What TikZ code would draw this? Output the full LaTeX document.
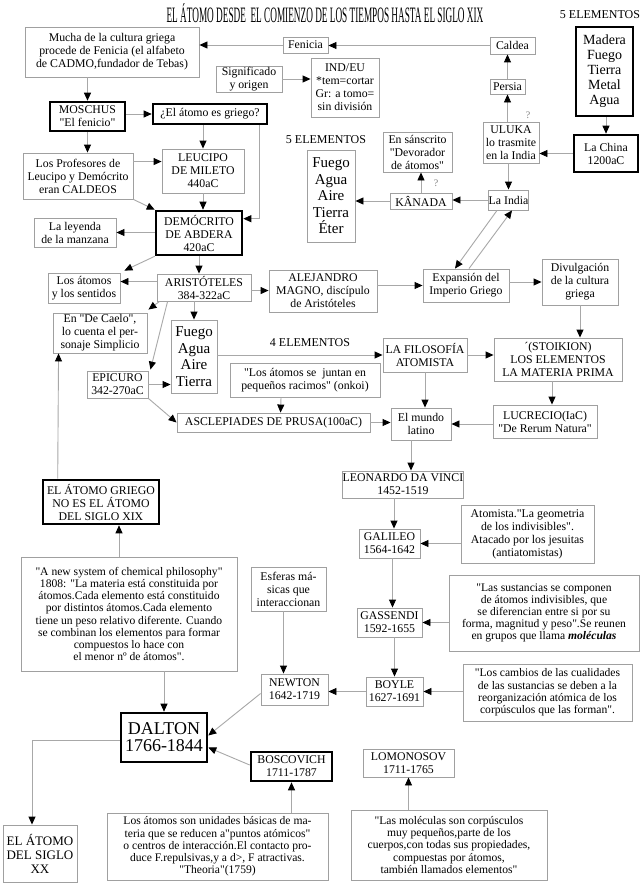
\documentclass[tikz,border=0pt]{standalone}
\usepackage{fontspec}
\setmainfont{Liberation Serif}[Ligatures=TeXOff]
\usetikzlibrary{arrows.meta,calc}
\definecolor{lgray}{HTML}{A8A8A8}
\definecolor{bgray}{HTML}{A0A0A0}
\newcommand\nfont{\fontsize{11.8pt}{13pt}\selectfont}
\newcommand\tfont{\fontsize{11.6pt}{12.2pt}\selectfont}
\newcommand\fbig{\fontsize{15pt}{16.5pt}\selectfont}
\newcommand\fmid{\fontsize{14pt}{15pt}\selectfont}
\newcommand\fdal{\fontsize{18pt}{17pt}\selectfont}
\newcommand\BX[7]{\node[#6, minimum width={(#4)-(#2)}, minimum height={(#5)-(#3)}] (#1) at ({((#2)+(#4))/2},{((#3)+(#5))/2}) {#7};}
\tikzset{
  box/.style={draw=bgray, line width=0.9pt, fill=white, align=center, inner sep=0pt, font=\nfont},
  tbox/.style={box, draw=black, line width=2.6pt},
  arr/.style={draw=lgray, line width=0.9pt, -{Triangle[length=8pt,width=7pt,color=black]}},
  lab/.style={font=\fontsize{12pt}{12pt}\selectfont, inner sep=0pt},
  qm/.style={font=\fontsize{10pt}{10pt}\selectfont, text=gray, inner sep=0pt}
}
\begin{document}
\begin{tikzpicture}[x=1pt,y=-1pt]
\useasboundingbox[fill=white] (0,0) rectangle (642,883);

% title and labels
\node[inner sep=0pt] (title) at (325,13) {\scalebox{0.42}[1]{\fontsize{22pt}{22pt}\selectfont EL ÁTOMO DESDE \ EL COMIENZO DE LOS TIEMPOS HASTA EL SIGLO XIX}};
\node[lab] (lab5a) at (600,15) {5 ELEMENTOS};
\node[lab] (lab5b) at (326,140) {5 ELEMENTOS};
\node[lab] (lab4) at (310,343) {4 ELEMENTOS};
\node[qm] (q1) at (528,115) {?};
\node[qm] (q2) at (436,183) {?};

% boxes
\BX{mucha}{25}{27}{199}{77}{box}{Mucha de la cultura griega\\procede de Fenicia (el alfabeto\\de CADMO,fundador de Tebas)}
\BX{fenicia}{283}{37}{328}{53}{box}{Fenicia}
\BX{caldea}{490}{37}{535}{54}{box}{Caldea}
\BX{signif}{216}{66}{282}{92}{box}{Significado\\y origen}
\BX{indeu}{311}{58}{379}{117}{box}{IND/EU\\*tem=cortar\\Gr: a tomo=\\sin división}
\BX{madera}{576}{27}{633}{116}{tbox,font=\fmid}{Madera\\Fuego\\Tierra\\Metal\\Agua}
\BX{persia}{490}{79}{525}{94}{box}{Persia}
\BX{uluka}{483}{122}{539}{163}{box}{ULUKA\\lo trasmite\\en la India}
\BX{china}{574}{135}{638}{172}{tbox}{La China\\1200aC}
\BX{moschus}{50}{102}{125}{131}{tbox}{MOSCHUS\\"El fenicio"}
\BX{atgr}{153}{104}{267}{124}{tbox}{¿El átomo es griego?}
\BX{sanscrito}{383}{132}{452}{172}{box}{En sánscrito\\"Devorador\\de átomos"}
\BX{fuego5}{307}{150}{355}{242}{box,font=\fbig}{Fuego\\Agua\\Aire\\Tierra\\Éter}
\BX{profes}{23}{153}{133}{199}{box}{Los Profesores de\\Leucipo y Demócrito\\eran CALDEOS}
\BX{leucipo}{162}{149}{244}{193}{box}{LEUCIPO\\DE MILETO\\440aC}
\BX{kanada}{390}{193}{452}{209}{box}{KÂNADA}
\BX{india}{490}{190}{527}{210}{box}{La India}
\BX{democrito}{156}{211}{242}{255}{tbox}{DEMÓCRITO\\DE ABDERA\\420aC}
\BX{leyenda}{34}{218}{116}{247}{box}{La leyenda\\de la manzana}
\BX{aristoteles}{157}{274}{251}{301}{box}{ARISTÓTELES\\384-322aC}
\BX{sentidos}{48}{273}{120}{303}{box}{Los átomos\\y los sentidos}
\BX{alejandro}{269}{270}{377}{312}{box}{ALEJANDRO\\MAGNO, discípulo\\de Aristóteles}
\BX{expansion}{423}{269}{509}{302}{box}{Expansión del\\Imperio Griego}
\BX{divulg}{542}{259}{618}{305}{box}{Divulgación\\de la cultura\\griega}
\BX{caelo}{53}{313}{147}{353}{box}{En "De Caelo",\\lo cuenta el per-\\sonaje Simplicio}
\BX{fuego4}{171}{320}{217}{393}{box,font=\fbig}{Fuego\\Agua\\Aire\\Tierra}
\BX{filosofia}{383}{338}{467}{372}{box}{LA FILOSOFÍA\\ATOMISTA}
\BX{stoikion}{494}{338}{622}{381}{box}{´(STOIKION)\\LOS ELEMENTOS\\LA MATERIA PRIMA}
\BX{epicuro}{87}{371}{148}{398}{box}{EPICURO\\342-270aC}
\BX{racimos}{230}{363}{380}{397}{box}{"Los átomos se \ juntan en\\pequeños racimos" (onkoi)}
\BX{asclep}{177}{413}{370}{432}{box}{ASCLEPIADES DE PRUSA(100aC)}
\BX{mundo}{391}{408}{451}{440}{box}{El mundo\\latino}
\BX{lucrecio}{493}{405}{597}{438}{box}{LUCRECIO(IaC)\\"De Rerum Natura"}
\BX{leonardo}{343}{471}{463}{498}{box}{LEONARDO DA VINCI\\1452-1519}
\BX{griego}{43}{480}{159}{524}{tbox}{EL ÁTOMO GRIEGO\\NO ES EL ÁTOMO\\DEL SIGLO XIX}
\BX{atomista}{461}{505}{594}{563}{box}{Atomista."La geometria\\de los indivisibles".\\Atacado por los jesuitas\\(antiatomistas)}
\BX{galileo}{359}{529}{420}{558}{box}{GALILEO\\1564-1642}
\BX{newsys}{21}{557}{237}{671}{box,font=\tfont}{"A new system of chemical philosophy"\\1808: "La materia está constituida por\\átomos.Cada elemento está constituido\\por distintos átomos.Cada elemento\\tiene un peso relativo diferente. Cuando\\se combinan los elementos para formar\\compuestos lo hace con\\el menor nº de átomos".}
\BX{esferas}{251}{567}{326}{611}{box}{Esferas má-\\sicas que\\interaccionan}
\BX{sustancias}{449}{575}{639}{651}{box,font=\tfont}{"Las sustancias se componen\\de átomos indivisibles, que\\se diferencian entre si por su\\forma, magnitud y peso".Se reunen\\en grupos que llama \textbf{\textit{moléculas}}}
\BX{gassendi}{357}{608}{422}{637}{box}{GASSENDI\\1592-1655}
\BX{cambios}{463}{664}{632}{721}{box,font=\tfont}{"Los cambios de las cualidades\\de las sustancias se deben a la\\reorganización atómica de los\\corpúsculos que las forman".}
\BX{newton}{261}{674}{328}{705}{box}{NEWTON\\1642-1719}
\BX{boyle}{366}{677}{423}{706}{box}{BOYLE\\1627-1691}
\BX{dalton}{121}{713}{207}{762}{tbox,font=\fdal}{DALTON\\1766-1844}
\BX{lomonosov}{363}{749}{454}{777}{box}{LOMONOSOV\\1711-1765}
\BX{boscovich}{251}{752}{332}{781}{tbox}{BOSCOVICH\\1711-1787}
\BX{puntos}{107}{813}{328}{880}{box,font=\tfont}{Los átomos son unidades básicas de ma-\\teria que se reducen a"puntos atómicos"\\o centros de interacción.El contacto pro-\\duce F.repulsivas,y a d>, F atractivas.\\"Theoria"(1759)}
\BX{moleculas}{351}{810}{547}{880}{box,font=\tfont}{"Las moléculas son corpúsculos\\muy pequeños,parte de los\\cuerpos,con todas sus propiedades,\\compuestas por átomos,\\también llamados elementos"}
\BX{siglo}{3}{825}{77}{882}{box,font=\fontsize{13pt}{14pt}\selectfont}{EL ÁTOMO\\DEL SIGLO\\XX}

% helper coordinates
\coordinate (s1) at ($(stoikion.south)+(-6,0)$);

% connectors
\draw[arr] (caldea.west) -- (caldea.west -| fenicia.east);
\draw[arr] (fenicia.west) -- (fenicia.west -| mucha.east);
\draw[arr] (signif.east) -- (signif.east -| indeu.west);
\draw[arr] (persia.north) -- (persia.north |- caldea.south);
\draw[arr] (persia.south |- uluka.north) -- (persia.south);
\draw[arr] (madera.south -| china.north) -- (china.north);
\draw[arr] (china.west) -- (china.west -| uluka.east);
\draw[arr] (india.north |- uluka.south) -- (india.north);
\draw[arr] (india.west) -- (india.west -| kanada.east);
\draw[arr] (kanada.north) -- (kanada.north |- sanscrito.south);
\draw[arr] (kanada.west) -- (kanada.west -| fuego5.east);
\draw[arr] ($(india.south)+(-11.5,0)$) -- ($(expansion.north)+(-11,0)$);
\draw[arr] ($(expansion.north)+(3,0)$) -- ($(india.south)+(3.5,0)$);

\draw[arr] (moschus.north |- mucha.south) -- (moschus.north);
\draw[arr] (moschus.east |- atgr.west) -- (atgr.west);
\draw[arr] (moschus.south) -- (moschus.south |- profes.north);
\draw[arr] (leucipo.north |- atgr.south) -- (leucipo.north);
\draw[arr] ($(atgr.south east)+(-9,0)$) |- ($(democrito.north east)+(0,9)$);
\draw[arr] ($(profes.north east)+(0,9)$) -- ($(leucipo.north west)+(0,13)$);
\draw[arr] (profes.south east) -- (democrito.north west);
\draw[arr] (leucipo.south) -- (leucipo.south |- democrito.north);
\draw[arr] (democrito.west |- leyenda.east) -- (leyenda.east);
\draw[arr] (democrito.south) -- (democrito.south |- aristoteles.north);
\draw[arr] (democrito.south west) -- ($(sentidos.north east)+(4,-2)$);
\draw[arr] ($(aristoteles.north west)+(0,8)$) -- ($(sentidos.north east)+(0,9)$);
\draw[arr] ($(aristoteles.north east)+(0,17)$) -- ($(alejandro.north west)+(0,21)$);
\draw[arr] ($(aristoteles.south west)+(3,0)$) -- ($(caelo.north east)+(1,-3)$);
\draw[arr] (fuego4.north |- aristoteles.south) -- (fuego4.north);
\draw[arr] ($(aristoteles.south west)+(11,0)$) -- ($(epicuro.north east)+(2,-1)$);
\draw[arr] (epicuro.east) -- (epicuro.east -| fuego4.west);
\draw[arr] (epicuro.south east) -- (asclep.west);
\draw[arr] (alejandro.east |- expansion.west) -- (expansion.west);
\draw[arr] (expansion.east |- divulg.west) -- (divulg.west);
\draw[arr] (divulg.south) -- (divulg.south |- stoikion.north);
\draw[arr] (fuego4.east |- filosofia.west) -- (filosofia.west);
\draw[arr] (filosofia.east) -- (filosofia.east -| stoikion.west);
\draw[arr] (filosofia.south) -- (filosofia.south |- mundo.north);
\draw[arr] (s1) -- (s1 |- lucrecio.north);
\draw[arr] (lucrecio.west |- mundo.east) -- (mundo.east);
\draw[arr] ($(racimos.south)+(-24,0)$) -- ($(asclep.north west)+(104,0)$);
\draw[arr] (asclep.east) -- (asclep.east -| mundo.west);

\draw[arr] ($(mundo.south)+(-10,0)$) -- ($(leonardo.north)+(8,0)$);
\draw[arr] ($(leonardo.south)+(-9,0)$) -- ($(galileo.north)+(4.5,0)$);
\draw[arr] (atomista.west |- galileo.east) -- (galileo.east);
\draw[arr] ($(galileo.south)+(3,0)$) -- ($(gassendi.north)+(3,0)$);
\draw[arr] (sustancias.west |- gassendi.east) -- (gassendi.east);
\draw[arr] (boyle.north |- gassendi.south) -- (boyle.north);
\draw[arr] (cambios.west |- boyle.east) -- (boyle.east);
\draw[arr] (boyle.west) -- (boyle.west -| newton.east);
\draw[arr] ($(esferas.south)+(-5,0)$) -- ($(newton.north)+(-11,0)$);
\draw[arr] ($(newton.west)+(0,4)$) -- ($(dalton.east)+(0,-2)$);
\draw[arr] ($(boscovich.west)+(0,-1.5)$) -- ($(dalton.east)+(0,10)$);
\draw[arr] (boscovich.south |- puntos.north) -- (boscovich.south);
\draw[arr] (dalton.north |- newsys.south) -- (dalton.north);
\draw[arr] ($(newsys.north)+(-10,0)$) -- ($(griego.south)+(18,0)$);
\draw[arr] ($(griego.north west)+(16,0)$) -- ($(caelo.south west)+(6,0)$);
\draw[arr] ($(dalton.west)+(0,3)$) -| ($(siglo.north)+(-8,0)$);
\draw[arr] (lomonosov.south |- moleculas.north) -- (lomonosov.south);
\end{tikzpicture}
\end{document}
